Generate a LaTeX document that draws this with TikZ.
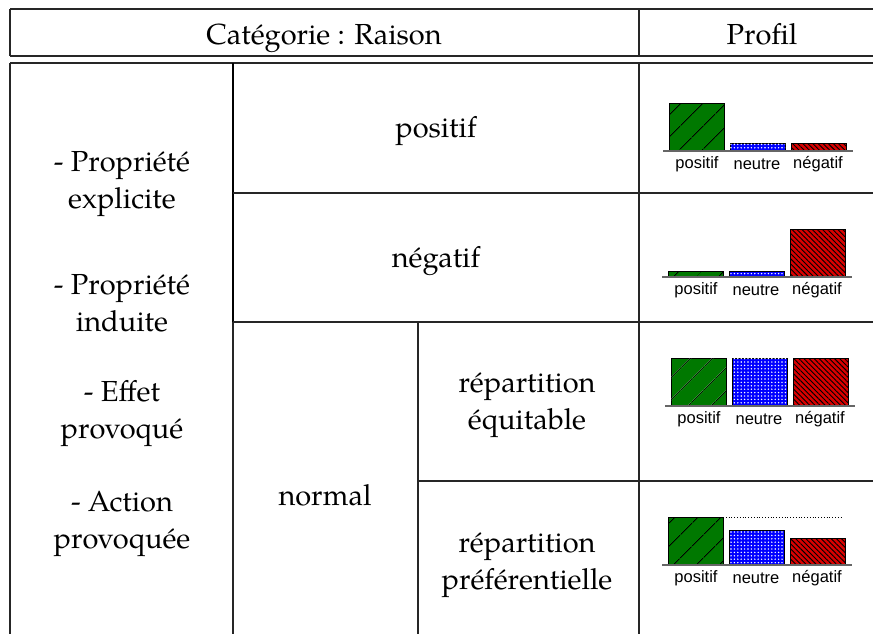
\documentclass[tikz,border=0pt]{standalone}
\usepackage{fontspec}
\setmainfont{TeX Gyre Pagella}
\newfontfamily\chartfont{Liberation Sans}
\usetikzlibrary{patterns.meta}
\tikzset{rule/.style={draw=black!85,line width=1.3pt},
         thickrule/.style={draw=black,line width=2.2pt},
         cell/.style={font=\fontsize{29}{37}\selectfont,align=center,inner sep=0pt},
         lbl/.style={font=\chartfont\fontsize{16.5}{16.5}\selectfont,inner sep=0pt},
         base/.style={draw=black!60,line width=1.8pt},
         barpos/.style={draw=black,line width=0.8pt,fill=green!47!black,
                        postaction={pattern color=black,pattern={Lines[angle=45,distance=17pt,line width=0.9pt]}}},
         barneu/.style={draw=black,line width=0.8pt,fill=blue,
                        postaction={pattern color=white,pattern={Dots[distance=3.4pt,radius=0.8pt]}}},
         barneg/.style={draw=black,line width=0.8pt,fill=red!85!black,
                        postaction={pattern color=black,pattern={Lines[angle=-45,distance=3.6pt,line width=0.9pt]}}},
        }

\begin{document}
\begin{tikzpicture}[x=1pt,y=-1pt]
        \useasboundingbox (0,0) rectangle (873,634);
        % header
        \draw[rule] (10,9) -- (873,9);
        \draw[rule] (10,56) -- (873,56);
        \draw[rule] (10,9) -- (10,56);
        \draw[rule] (639,9) -- (639,56);
        \node[cell,anchor=base](cat)at(324,45){Catégorie : Raison};
        \node[cell,anchor=base](prof)at(762,45){Profil};
        % body
        \draw[rule] (10,63) -- (873,63);
        \draw[rule] (10,63) -- (10,634);
        \draw[thickrule] (233,63) -- (233,322);
        \draw[rule] (233,322) -- (233,634);
        \draw[rule] (418,322) -- (418,634);
        \draw[rule] (639,63) -- (639,634);
        \draw[rule] (233,193) -- (873,193);
        \draw[rule] (233,322) -- (873,322);
        \draw[rule] (418,481) -- (873,481);
        \node[cell](expl)at(122,184){- Propriété\\explicite};
        \node[cell](ind)at(122,303){- Propriété\\induite};
        \node[cell](eff)at(122,414){- Effet\\provoqué};
        \node[cell](act)at(122,524){- Action\\provoquée};
        \node[cell](rpos)at(436,131){positif};
        \node[cell](rneg)at(436,261){négatif};
        \node[cell](rnorm)at(325,495){normal};
        \node[cell](equi)at(527,405){répartition\\équitable};
        \node[cell](pref)at(527,565){répartition\\préférentielle};
        % profils
        \foreach \i/\yb/\dx/\ha/\hb/\hc in {1/151/0/48/8/8, 2/277/-1/6/6/48, 3/406/2/48/48/48, 4/565/-1/48/35/27}{
          \begin{scope}[xshift=\dx pt]
            \draw[barpos] (669,\yb) rectangle (724,\yb-\ha);
            \draw[barneu] (730,\yb) rectangle (785,\yb-\hb);
            \draw[barneg] (791,\yb) rectangle (846,\yb-\hc);
            \draw[base] (663,\yb) -- (853,\yb);
            \node[lbl](p\i)at(697,\yb+13.5){positif};
            \node[lbl](n\i)at(757,\yb+13.5){neutre};
            \node[lbl](m\i)at(818,\yb+13.5){négatif};
          \end{scope}
        }
        \draw[dotted,line width=0.8pt] (723,517) -- (843,517);
\end{tikzpicture}
\end{document}
